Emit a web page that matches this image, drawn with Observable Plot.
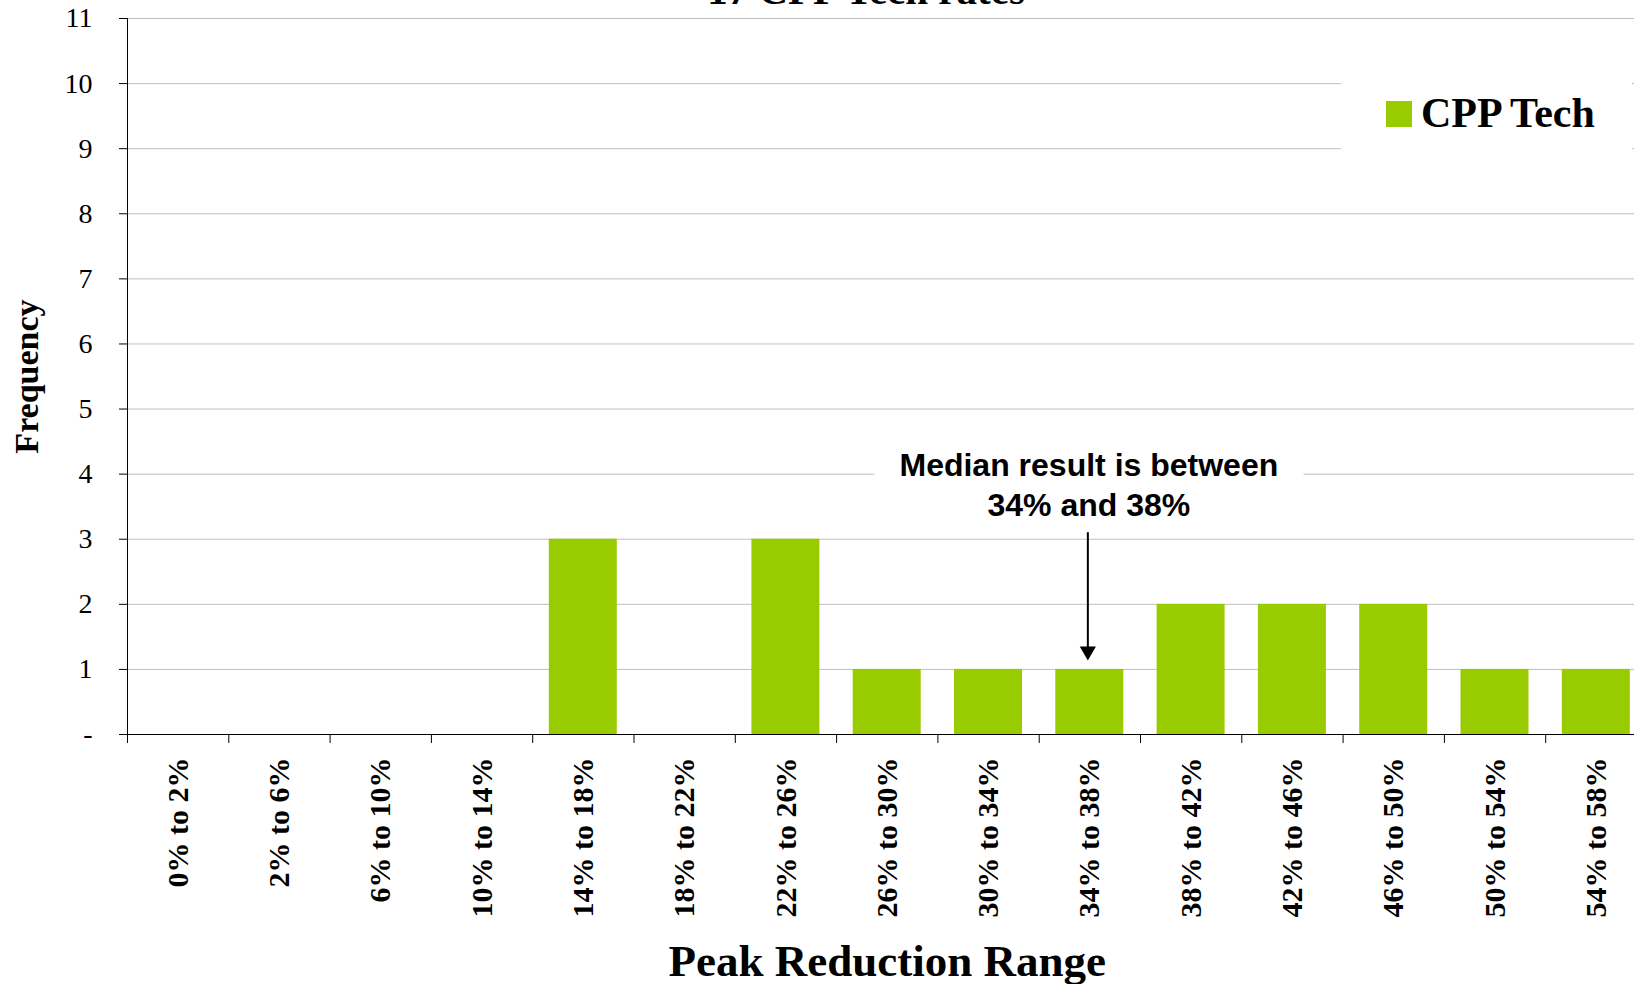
<!DOCTYPE html>
<html>
<head>
<meta charset="utf-8">
<script src="https://cdn.jsdelivr.net/npm/d3@7"></script>
<script src="https://cdn.jsdelivr.net/npm/@observablehq/plot@0.6"></script>
<style>
  html, body { margin: 0; padding: 0; background: white; overflow: hidden; }
  #wrap { position: relative; width: 1634px; height: 984px; overflow: hidden; }
  #wrap svg { position: absolute; left: 0; top: 0; }
  .title {
    position: absolute; left: 866px; top: -30.5px; transform: translateX(-50%);
    font: bold 41px/41px "Liberation Serif", "Times New Roman", serif; white-space: nowrap;
  }
  .legend {
    position: absolute; left: 1341px; top: 62px; width: 291px; height: 100px; background: white;
  }
  .legend .swatch { position: absolute; left: 45px; top: 39px; width: 26px; height: 26px; background: #99cc00; }
  .legend .label {
    position: absolute; left: 80px; top: 29.8px;
    font: bold 42px/42px "Liberation Serif", "Times New Roman", serif; white-space: nowrap;
  }
</style>
</head>
<body>
<div id="wrap">
  <div class="title">17 CPP Tech rates</div>
</div>
<script>
// Peak reduction ranges (histogram bins) and how many rates fall in each
const categories = [
  "0% to 2%", "2% to 6%", "6% to 10%", "10% to 14%", "14% to 18%",
  "18% to 22%", "22% to 26%", "26% to 30%", "30% to 34%", "34% to 38%",
  "38% to 42%", "42% to 46%", "46% to 50%", "50% to 54%", "54% to 58%"
];
const counts = [0, 0, 0, 0, 3, 0, 3, 1, 1, 1, 2, 2, 2, 1, 1];
const yTicks = [0, 1, 2, 3, 4, 5, 6, 7, 8, 9, 10, 11];
const seriesName = "CPP Tech";
const medianBin = "34% to 38%";
const medianNote = "Median result is between\n34% and 38%";
// where the note sits and where its arrow starts and ends (frequency units)
const noteY = 3.36;
const arrowFrom = 3.1;
const arrowTo = 1.28;

const serif = '"Liberation Serif", "Times New Roman", serif';
const sans = '"Liberation Sans", Arial, sans-serif';
const green = "#99cc00";

// one row per bin; bins sit on a continuous axis so ticks can mark bin edges
const rows = categories.map((range, i) => ({range, lo: i, hi: i + 1, count: counts[i]}));
const binCenters = rows.map(d => (d.lo + d.hi) / 2);
const binEdges = d3.range(categories.length + 1);
const medianX = categories.indexOf(medianBin) + 0.5;

const chart = Plot.plot({
  width: 1660,
  height: 984,
  marginLeft: 127,
  marginRight: 13.5,
  marginTop: 18,
  marginBottom: 250,
  x: {domain: [0, categories.length], axis: null},
  y: {domain: [0, 11], axis: null},
  style: {fontFamily: serif, maxWidth: "none", background: "white", color: "black"},
  marks: [
    Plot.gridY(yTicks.filter(d => d > 0), {stroke: "#c0c0c0", strokeOpacity: 1}),
    Plot.rectY(rows, {x1: "lo", x2: "hi", y: "count", fill: green, insetLeft: 16.6, insetRight: 16.7}),
    Plot.axisY({
      ticks: yTicks, tickFormat: d => (d === 0 ? "-" : d), tickSize: 8, tickPadding: 27,
      fontSize: 28, fontFamily: serif, label: null
    }),
    Plot.axisX({
      ticks: binCenters, tickFormat: v => categories[Math.floor(v)], tickSize: 0, tickPadding: 23,
      tickRotate: -90, fontSize: 30, fontWeight: "bold", fontFamily: serif, label: null
    }),
    Plot.axisX({ticks: binEdges, tickFormat: () => "", tickSize: 9, label: null}),
    Plot.ruleX([0], {stroke: "black"}),
    Plot.ruleY([0], {stroke: "black"}),
    // white backing behind the note's first line so gridlines stop short of it
    Plot.text([medianNote.split("\n")[0]], {
      x: medianX, y: noteY, dx: -1, dy: -39.3, lineAnchor: "bottom",
      fontSize: 32, fontWeight: "bold", fontFamily: sans,
      fill: "white", stroke: "white", strokeWidth: 54, strokeLinejoin: "round"
    }),
    Plot.text([medianNote], {
      x: medianX, y: noteY, dx: -1, lineAnchor: "bottom", lineHeight: 1.23,
      fontSize: 32, fontWeight: "bold", fontFamily: sans, fill: "black"
    }),
    Plot.ruleX([medianX], {y1: arrowFrom, y2: arrowTo, dx: -2, stroke: "black", strokeWidth: 2}),
    Plot.dot([medianX], {x: d => d, y: arrowTo, dx: -2, symbol: "triangle", rotate: 180, r: 6, fill: "black", stroke: null}),
    Plot.text(["Frequency"], {
      frameAnchor: "left", dx: -100, rotate: -90, textAnchor: "middle",
      fontSize: 34, fontWeight: "bold", fontFamily: serif
    }),
    Plot.text(["Peak Reduction Range"], {
      frameAnchor: "bottom", dy: 241, lineAnchor: "bottom",
      fontSize: 45, fontWeight: "bold", fontFamily: serif
    })
  ]
});

const wrap = document.getElementById("wrap");
wrap.insertBefore(chart, wrap.firstChild);

const legend = document.createElement("div");
legend.className = "legend";
legend.innerHTML = `<div class="swatch"></div><div class="label"></div>`;
legend.querySelector(".label").textContent = seriesName;
wrap.appendChild(legend);
</script>
</body>
</html>
